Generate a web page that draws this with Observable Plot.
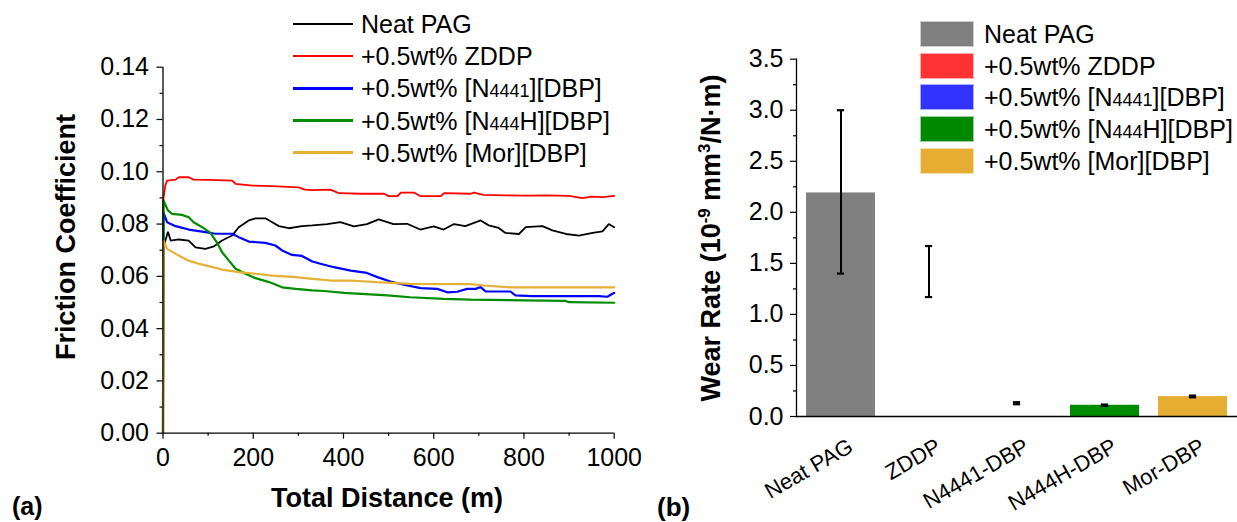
<!DOCTYPE html>
<html>
<head>
<meta charset="utf-8">
<script src="https://cdn.jsdelivr.net/npm/d3@7"></script>
<script src="https://cdn.jsdelivr.net/npm/@observablehq/plot@0.6"></script>
<style>
  html, body { margin: 0; padding: 0; background: #fff; }
  #wrap { position: relative; width: 1237px; height: 522px; background: #fff; overflow: hidden;
          font-family: "Liberation Sans", Arial, sans-serif; color: #000; }
  .panel { position: absolute; top: 0; height: 522px; }
  .ov { position: absolute; white-space: nowrap; line-height: 1; }
  .title { font-weight: bold; font-size: 27px; }
  .rot { transform: translate(-50%, -50%) rotate(-90deg); }
  .ctr { transform: translate(-50%, -50%); }
  .sub { font-size: 0.72em; }
  .leg { position: absolute; font-size: 25px; line-height: 32px; height: 32px; white-space: nowrap; }
</style>
</head>
<body>
<div id="wrap">
  <div id="right" class="panel" style="left:620px;width:617px;overflow:hidden"></div>
  <div id="left" class="panel" style="left:0;width:620px"></div>
</div>
<script>
// ---------------- Data: friction coefficient vs total distance (panel a) ----------------
const seriesNames = ["Neat PAG", "+0.5wt% ZDDP", "+0.5wt% [N4441][DBP]", "+0.5wt% [N444H][DBP]", "+0.5wt% [Mor][DBP]"];
const lineColors = ["#000000", "#ff0000", "#0000ff", "#008c00", "#e6b035"];
const lineWidths = [1.8, 1.8, 2.2, 2.2, 2.2];
const legendLineWidths = [2, 2, 3.2, 3.2, 3.2];

// [distance (m), friction coefficient]
const neatPAG = [[0,0],[1,0.0711],[11,0.0771],[17,0.0737],[35,0.0741],[57,0.0737],[72,0.0711],[94,0.0705],[113,0.0715],[131,0.0737],[153,0.0756],[168,0.0788],[190,0.0814],[205,0.0822],[227,0.0822],[242,0.0807],[257,0.0792],[279,0.0784],[308,0.0792],[331,0.0795],[364,0.0800],[393,0.0807],[423,0.0791],[452,0.0800],[478,0.0818],[511,0.0800],[541,0.0801],[570,0.0779],[600,0.0791],[622,0.0779],[645,0.0800],[670,0.0792],[704,0.0814],[722,0.0795],[744,0.0785],[759,0.0766],[789,0.0762],[804,0.0788],[841,0.0792],[863,0.0776],[893,0.0762],[922,0.0756],[952,0.0766],[974,0.0772],[988,0.0800],[1000,0.0788]];
const zddp = [[0,0],[1,0.0899],[5,0.0947],[9,0.0966],[28,0.0970],[35,0.0979],[57,0.0979],[68,0.0970],[100,0.0969],[153,0.0966],[161,0.0954],[198,0.0947],[242,0.0945],[300,0.0940],[315,0.0932],[331,0.0930],[371,0.0932],[390,0.0918],[440,0.0916],[490,0.0916],[500,0.0907],[520,0.0907],[527,0.0920],[557,0.0920],[570,0.0907],[616,0.0907],[623,0.0918],[682,0.0916],[689,0.0920],[710,0.0912],[760,0.0910],[800,0.0909],[850,0.0910],[900,0.0908],[929,0.0899],[950,0.0905],[975,0.0903],[1000,0.0908]];
const n4441 = [[0,0],[1,0.0845],[9,0.0807],[28,0.0792],[57,0.0779],[87,0.0771],[116,0.0763],[153,0.0763],[168,0.0750],[190,0.0733],[227,0.0728],[249,0.0718],[264,0.0699],[286,0.0682],[308,0.0678],[331,0.0657],[349,0.0648],[379,0.0635],[416,0.0622],[452,0.0613],[475,0.0597],[504,0.0580],[534,0.0568],[571,0.0555],[608,0.0552],[630,0.0539],[652,0.0541],[674,0.0552],[693,0.0552],[704,0.0559],[715,0.0542],[770,0.0542],[781,0.0527],[818,0.0524],[900,0.0524],[966,0.0524],[985,0.0522],[1000,0.0537]];
const n444H = [[0,0],[1,0.0890],[11,0.0852],[20,0.0839],[42,0.0835],[57,0.0826],[68,0.0807],[87,0.0788],[105,0.0766],[120,0.0728],[131,0.0692],[146,0.0660],[161,0.0629],[183,0.0610],[205,0.0593],[235,0.0578],[264,0.0558],[294,0.0552],[331,0.0546],[357,0.0544],[401,0.0537],[497,0.0527],[548,0.0520],[622,0.0514],[682,0.0511],[800,0.0508],[893,0.0506],[900,0.0501],[1000,0.0499]];
const morDBP = [[0,0],[1,0.0737],[9,0.0705],[28,0.0686],[42,0.0673],[57,0.0660],[79,0.0648],[101,0.0639],[131,0.0626],[168,0.0616],[205,0.0610],[242,0.0603],[294,0.0597],[331,0.0590],[371,0.0584],[415,0.0584],[474,0.0578],[548,0.0571],[682,0.0570],[711,0.0565],[770,0.0558],[1000,0.0558]];
const frictionSeries = [neatPAG, zddp, n4441, n444H, morDBP];

const xMajorTicks = [0, 200, 400, 600, 800, 1000];
const xMinorTicks = [100, 300, 500, 700, 900];
const yMajorTicks = [0, 0.02, 0.04, 0.06, 0.08, 0.10, 0.12, 0.14];
const yMinorTicks = [0.01, 0.03, 0.05, 0.07, 0.09, 0.11, 0.13];

// ---------------- Data: wear rate (panel b) ----------------
const wearCategories = ["Neat PAG", "ZDDP", "N4441-DBP", "N444H-DBP", "Mor-DBP"];
const wearRate = [2.19, null, null, 0.11, 0.195];     // bars shown in the figure
const wearLow  = [1.40, 1.17, 0.12, 0.104, 0.188];
const wearHigh = [3.00, 1.67, 0.14, 0.117, 0.205];
const barColors = ["#808080", "#ff3333", "#3333ff", "#008c00", "#e5ae32"];
const swatchColors = ["#808080", "#ff3333", "#3333ff", "#008800", "#e5ae32"];
const wearMajorTicks = [0, 0.5, 1.0, 1.5, 2.0, 2.5, 3.0, 3.5];
const wearMinorTicks = [0.25, 0.75, 1.25, 1.75, 2.25, 2.75, 3.25];

const FONT = "Liberation Sans, Arial, sans-serif";

// ---------------- Panel (a) ----------------
const lineMarks = frictionSeries.map((s, i) =>
  Plot.line(s, {x: d => d[0], y: d => d[1], stroke: lineColors[i], strokeWidth: lineWidths[i], strokeLinejoin: "miter"})
);
const plotA = Plot.plot({
  width: 620, height: 522,
  marginLeft: 162.5, marginRight: 6.3, marginTop: 66.7, marginBottom: 89.3,
  style: {fontFamily: FONT, fontSize: "25px", color: "#000", background: "transparent", overflow: "visible"},
  x: {domain: [0, 1000]},
  y: {domain: [0, 0.14]},
  marks: [
    ...lineMarks,
    Plot.ruleX([0], {stroke: "#000", strokeWidth: 1.3}),
    Plot.ruleY([0], {stroke: "#000", strokeWidth: 1.3}),
    Plot.axisY({ticks: yMajorTicks, tickSize: 6, tickPadding: 8, tickFormat: d => d.toFixed(2), label: null, fontSize: 25, strokeWidth: 1.2}),
    Plot.axisY({ticks: yMinorTicks, tickSize: 3, tickFormat: () => "", label: null, strokeWidth: 1.2}),
    Plot.axisX({ticks: xMajorTicks, tickSize: 6, tickPadding: 9, tickFormat: d => String(d), label: null, fontSize: 25, strokeWidth: 1.2}),
    Plot.axisX({ticks: xMinorTicks, tickSize: 3, tickFormat: () => "", label: null, strokeWidth: 1.2})
  ]
});
document.getElementById("left").appendChild(plotA);

// ---------------- Panel (b) ----------------
const wearRows = wearCategories.map((c, i) => ({cat: c, value: wearRate[i], lo: wearLow[i], hi: wearHigh[i], color: barColors[i]}));
const step = 441 / 5, bw = step * 0.78, capW = 7;
const capInset = (bw - capW) / 2;
const plotB = Plot.plot({
  width: 617, height: 522,
  marginLeft: 176, marginRight: 0, marginTop: 58.7, marginBottom: 106,
  style: {fontFamily: FONT, fontSize: "25px", color: "#000", background: "transparent", overflow: "visible"},
  x: {domain: wearCategories, paddingInner: 0.22, paddingOuter: 0.11, axis: null},
  y: {domain: [0, 3.5]},
  color: {type: "identity"},
  marks: [
    Plot.barY(wearRows.filter(d => d.value != null), {x: "cat", y: "value", fill: "color"}),
    Plot.ruleX(wearRows, {x: "cat", y1: "lo", y2: "hi", stroke: "#000", strokeWidth: 2}),
    Plot.tickY(wearRows, {x: "cat", y: "lo", stroke: "#000", strokeWidth: 2.2, insetLeft: capInset, insetRight: capInset}),
    Plot.tickY(wearRows, {x: "cat", y: "hi", stroke: "#000", strokeWidth: 2.2, insetLeft: capInset, insetRight: capInset}),
    Plot.ruleY([0], {stroke: "#000", strokeWidth: 1.5}),
    Plot.frame({anchor: "left", stroke: "#000", strokeWidth: 1.3}),
    Plot.axisY({ticks: wearMajorTicks, tickSize: 6, tickPadding: 7, tickFormat: d => d.toFixed(1), label: null, fontSize: 25, strokeWidth: 1.2}),
    Plot.axisY({ticks: wearMinorTicks, tickSize: 3, tickFormat: () => "", label: null, strokeWidth: 1.2}),
    Plot.text(wearCategories, {x: d => d, frameAnchor: "bottom", text: d => d, rotate: -30, textAnchor: "end", lineAnchor: "middle", dx: 10, dy: 28, fontSize: 22})
  ]
});
document.getElementById("right").appendChild(plotB);

// ---------------- HTML overlays: titles, legends, panel labels ----------------
const wrap = document.getElementById("wrap");
function add(html, cls, style) {
  const d = document.createElement("div");
  d.className = cls;
  d.setAttribute("style", style);
  d.innerHTML = html;
  wrap.appendChild(d);
  return d;
}
function richName(name) {
  return name.replace(/\[N(\d+)/, (m, g) => `[N<span class="sub">${g}</span>`);
}

add("Friction Coefficient", "ov title rot", "left:66px;top:237px");
add("Total Distance (m)", "ov title ctr", "left:387px;top:498px");
add("Wear Rate (10<sup style=\"font-size:0.62em;vertical-align:0.55em\">-9</sup> mm<sup style=\"font-size:0.62em;vertical-align:0.55em\">3</sup>/N·m)", "ov title rot", "left:711px;top:238px");
add("(a)", "ov", "left:12px;top:494px;font-weight:bold;font-size:25px");
add("(b)", "ov", "left:657px;top:494px;font-weight:bold;font-size:26px");

// legend for panel (a)
seriesNames.forEach((name, i) => {
  const cy = 24 + i * 32.2;
  add("", "ov", `left:293px;top:${cy - legendLineWidths[i] / 2}px;width:60px;height:${legendLineWidths[i]}px;background:${lineColors[i]}`);
  add(richName(name), "leg", `left:361px;top:${cy - 16}px`);
});
// legend for panel (b)
seriesNames.forEach((name, i) => {
  const cy = 33.7 + i * 31.8;
  add("", "ov", `left:920px;top:${cy - 13}px;width:54px;height:26px;background:${swatchColors[i]};box-shadow:0 0 0 1px rgba(255,255,255,0.6) inset`);
  add(richName(name), "leg", `left:984px;top:${cy - 16}px`);
});
</script>
</body>
</html>
